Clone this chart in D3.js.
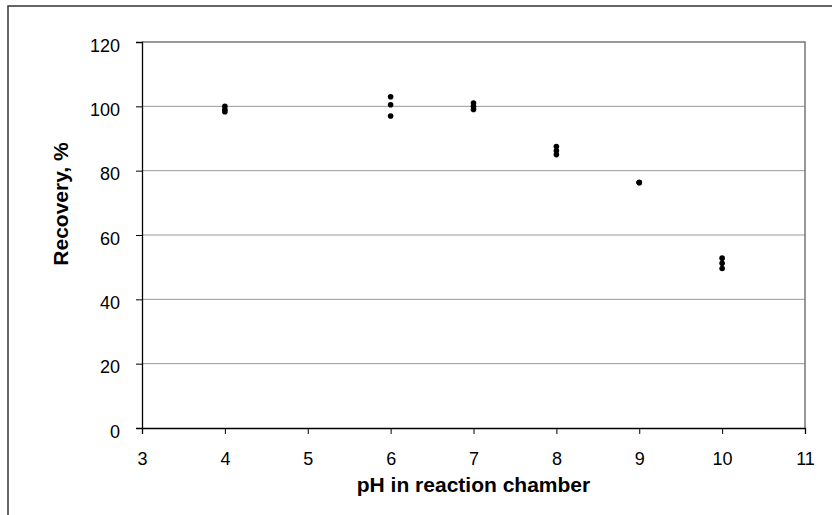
<!DOCTYPE html>
<html><head><meta charset="utf-8">
<script src="https://cdn.jsdelivr.net/npm/d3@7"></script>
<style>body{margin:0;background:#fff}svg{display:block}text{font-family:"Liberation Sans",Arial,sans-serif}</style>
</head><body><svg id="c" width="832" height="515"></svg>
<script>
const phLevels = [4, 4, 4, 6, 6, 6, 7, 7, 7, 8, 8, 8, 9, 9, 9, 10, 10, 10];
const recovery = [100, 99, 98.3, 103, 100.5, 97, 101, 100, 99, 87.5, 86.2, 85, 76.3, 76.3, 76.3, 52.8, 51.2, 49.6];
const xTicks = [3, 4, 5, 6, 7, 8, 9, 10, 11];
const yTicks = [0, 20, 40, 60, 80, 100, 120];

const svg = d3.select("#c");
const L = 142, R = 805, T = 42, B = 428;
const x = d3.scaleLinear().domain([3, 11]).range([L, R]);
const y = d3.scaleLinear().domain([0, 120]).range([B, T]);

// outer border
svg.append("rect").attr("x", 8).attr("y", 6).attr("width", 840).attr("height", 520)
  .attr("fill", "none").attr("stroke", "#333").attr("stroke-width", 1.5);

// gridlines
svg.append("g").selectAll("line").data(yTicks.filter(d => d > 0 && d < 120)).join("line")
  .attr("x1", L).attr("x2", R).attr("y1", d => y(d)).attr("y2", d => y(d))
  .attr("stroke", "#999").attr("stroke-width", 1);

// plot area top/right border
svg.append("path").attr("d", `M${L},${y(120)}H${R}V${B}`).attr("fill", "none")
  .attr("stroke", "#777").attr("stroke-width", 1.5);

// axes
const yAxis = svg.append("g").attr("transform", `translate(${L},0)`)
  .call(d3.axisLeft(y).tickValues(yTicks).tickSize(6).tickPadding(16));
const xAxis = svg.append("g").attr("transform", `translate(0,${B})`)
  .call(d3.axisBottom(x).tickValues(xTicks).tickSize(6).tickPadding(18));
[yAxis, xAxis].forEach(a => {
  a.attr("font-size", 18).attr("font-family", "'Liberation Sans',Arial,sans-serif");
  a.select(".domain").attr("stroke", "#000").attr("stroke-width", 1.3);
  a.selectAll(".tick line").attr("stroke", "#000");
  a.selectAll("text").attr("fill", "#000");
});
yAxis.selectAll("text").attr("dy", "0.5em");

// points
svg.append("g").selectAll("circle").data(phLevels.map((p, i) => [p, recovery[i]])).join("circle")
  .attr("cx", d => x(d[0])).attr("cy", d => y(d[1])).attr("r", 2.8).attr("fill", "#000");

// titles
svg.append("text").attr("x", (L + R) / 2).attr("y", 492).attr("text-anchor", "middle")
  .attr("font-size", 21).attr("font-weight", "bold").text("pH in reaction chamber");
svg.append("text").attr("transform", `translate(68,204) rotate(-90)`)
  .attr("text-anchor", "middle").attr("font-size", 21).attr("font-weight", "bold").text("Recovery, %");
</script></body></html>
